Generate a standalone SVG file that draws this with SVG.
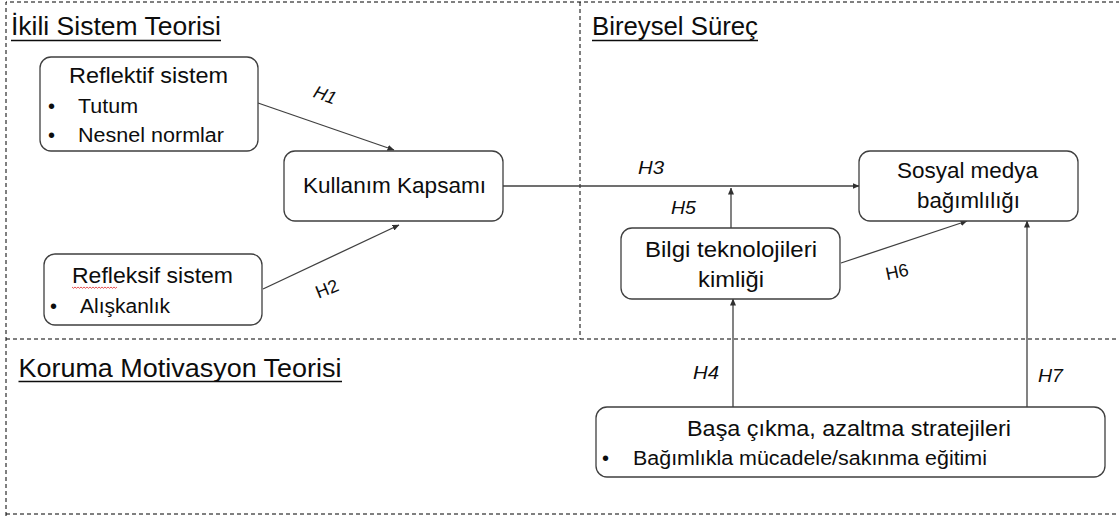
<svg xmlns="http://www.w3.org/2000/svg" width="1119" height="516" viewBox="0 0 1119 516">
<style>
text{font-family:"Liberation Sans",Arial,sans-serif;fill:#0d0d0d}
.title{font-size:26px}
.hd{font-size:22px}
.bl{font-size:20px}
.lbl{font-size:18px;font-style:italic}
.lblu{font-size:18px}
.box{fill:#fff;stroke:#3f3f3f;stroke-width:1.3}
.dash{fill:none;stroke:#000;stroke-width:1;stroke-dasharray:4 3}
.ul{stroke:#0d0d0d;stroke-width:1.6}
.con{fill:none;stroke:#404040;stroke-width:1.3}
</style>
<defs>
<marker id="ah" markerUnits="userSpaceOnUse" markerWidth="7" markerHeight="6" refX="6.5" refY="3" orient="auto">
<path d="M0,0 L7,3 L0,6 z" fill="#303030"/>
</marker>
</defs>
<rect width="1119" height="516" fill="#fff"/>
<g id="frames">
<path class="dash" d="M6,516 L6,2 L1119,2"/>
<path class="dash" d="M6,514 L1119,514"/>
<path class="dash" d="M6,339 L1119,339"/>
<path class="dash" d="M580,2 L580,339"/>
</g>
<g id="titles">
<text class="title" x="11" y="35" textLength="210" lengthAdjust="spacingAndGlyphs">İkili Sistem Teorisi</text>
<line class="ul" x1="11" y1="40.5" x2="221" y2="40.5"/>
<text class="title" x="592" y="35" textLength="166" lengthAdjust="spacingAndGlyphs">Bireysel Süreç</text>
<line class="ul" x1="592" y1="40.5" x2="758" y2="40.5"/>
<text class="title" x="18.5" y="377" textLength="323" lengthAdjust="spacingAndGlyphs">Koruma Motivasyon Teorisi</text>
<line class="ul" x1="18.5" y1="381.5" x2="342" y2="381.5"/>
</g>
<g id="connectors">
<path class="con" d="M258,103 L394,150" marker-end="url(#ah)"/>
<path class="con" d="M263,289 L399,225" marker-end="url(#ah)"/>
<path class="con" d="M503,186 L859,186" marker-end="url(#ah)"/>
<path class="con" d="M731,228 L731,188" marker-end="url(#ah)"/>
<path class="con" d="M841,263 L967,221" marker-end="url(#ah)"/>
<path class="con" d="M733,407 L733,299" marker-end="url(#ah)"/>
<path class="con" d="M1027,407 L1027,221" marker-end="url(#ah)"/>
<text class="lbl" transform="translate(325,95) rotate(20)" x="0" y="6" text-anchor="middle">H1</text>
<text class="lblu" transform="translate(327,289) rotate(-22)" x="0" y="6" text-anchor="middle">H2</text>
<text class="lbl" x="638" y="174" textLength="26" lengthAdjust="spacingAndGlyphs">H3</text>
<text class="lbl" x="693" y="379" textLength="26" lengthAdjust="spacingAndGlyphs">H4</text>
<text class="lbl" x="671" y="214" textLength="25" lengthAdjust="spacingAndGlyphs">H5</text>
<text class="lblu" transform="translate(897,272) rotate(-12)" x="0" y="6" text-anchor="middle">H6</text>
<text class="lbl" x="1038" y="382" textLength="25" lengthAdjust="spacingAndGlyphs">H7</text>
</g>
<g id="reflektif">
<rect class="box" x="40" y="57" width="218" height="94" rx="11"/>
<text class="hd" x="148.5" y="83" text-anchor="middle" textLength="159" lengthAdjust="spacingAndGlyphs">Reflektif  sistem</text>
<text class="bl" x="48" y="113">•</text>
<text class="bl" x="78" y="113" textLength="60" lengthAdjust="spacingAndGlyphs">Tutum</text>
<text class="bl" x="48" y="142">•</text>
<text class="bl" x="78" y="142" textLength="146" lengthAdjust="spacingAndGlyphs">Nesnel normlar</text>
</g>
<g id="kullanim">
<rect class="box" x="284" y="151" width="219" height="70" rx="11"/>
<text class="hd" x="394.5" y="193" text-anchor="middle" textLength="183" lengthAdjust="spacingAndGlyphs">Kullanım Kapsamı</text>
</g>
<g id="refleksif">
<rect class="box" x="44" y="254" width="218" height="71" rx="11"/>
<text class="hd" x="152.5" y="283" text-anchor="middle" textLength="161" lengthAdjust="spacingAndGlyphs">Refleksif  sistem</text>
<path d="M72,287 l1.5,1.3 l1.5,-1.3 l1.5,1.3 l1.5,-1.3 l1.5,1.3 l1.5,-1.3 l1.5,1.3 l1.5,-1.3 l1.5,1.3 l1.5,-1.3 l1.5,1.3 l1.5,-1.3 l1.5,1.3 l1.5,-1.3 l1.5,1.3 l1.5,-1.3 l1.5,1.3 l1.5,-1.3 l1.5,1.3 l1.5,-1.3 l1.5,1.3 l1.5,-1.3 l1.5,1.3 l1.5,-1.3 l1.5,1.3 l1.5,-1.3 l1.5,1.3 l1.5,-1.3 l1.5,1.3 l1.5,-1.3" fill="none" stroke="#e02828" stroke-width="0.8"/>
<text class="bl" x="50" y="313">•</text>
<text class="bl" x="80" y="313" textLength="90" lengthAdjust="spacingAndGlyphs">Alışkanlık</text>
</g>
<g id="sosyal">
<rect class="box" x="859" y="151" width="219" height="70" rx="11"/>
<text class="hd" x="967.5" y="178" text-anchor="middle" textLength="141" lengthAdjust="spacingAndGlyphs">Sosyal medya</text>
<text class="hd" x="968.5" y="208" text-anchor="middle" textLength="103" lengthAdjust="spacingAndGlyphs">bağımlılığı</text>
</g>
<g id="bilgi">
<rect class="box" x="621" y="228" width="219" height="71" rx="11"/>
<text class="hd" x="731" y="257" text-anchor="middle" textLength="172" lengthAdjust="spacingAndGlyphs">Bilgi teknolojileri</text>
<text class="hd" x="731" y="287" text-anchor="middle" textLength="66" lengthAdjust="spacingAndGlyphs">kimliği</text>
</g>
<g id="basa">
<rect class="box" x="596" y="407" width="509" height="70" rx="11"/>
<text class="hd" x="849" y="436" text-anchor="middle" textLength="324" lengthAdjust="spacingAndGlyphs">Başa çıkma, azaltma stratejileri</text>
<text class="bl" x="602" y="465">•</text>
<text class="bl" x="633" y="465" textLength="354" lengthAdjust="spacingAndGlyphs">Bağımlıkla mücadele/sakınma eğitimi</text>
</g>
</svg>
